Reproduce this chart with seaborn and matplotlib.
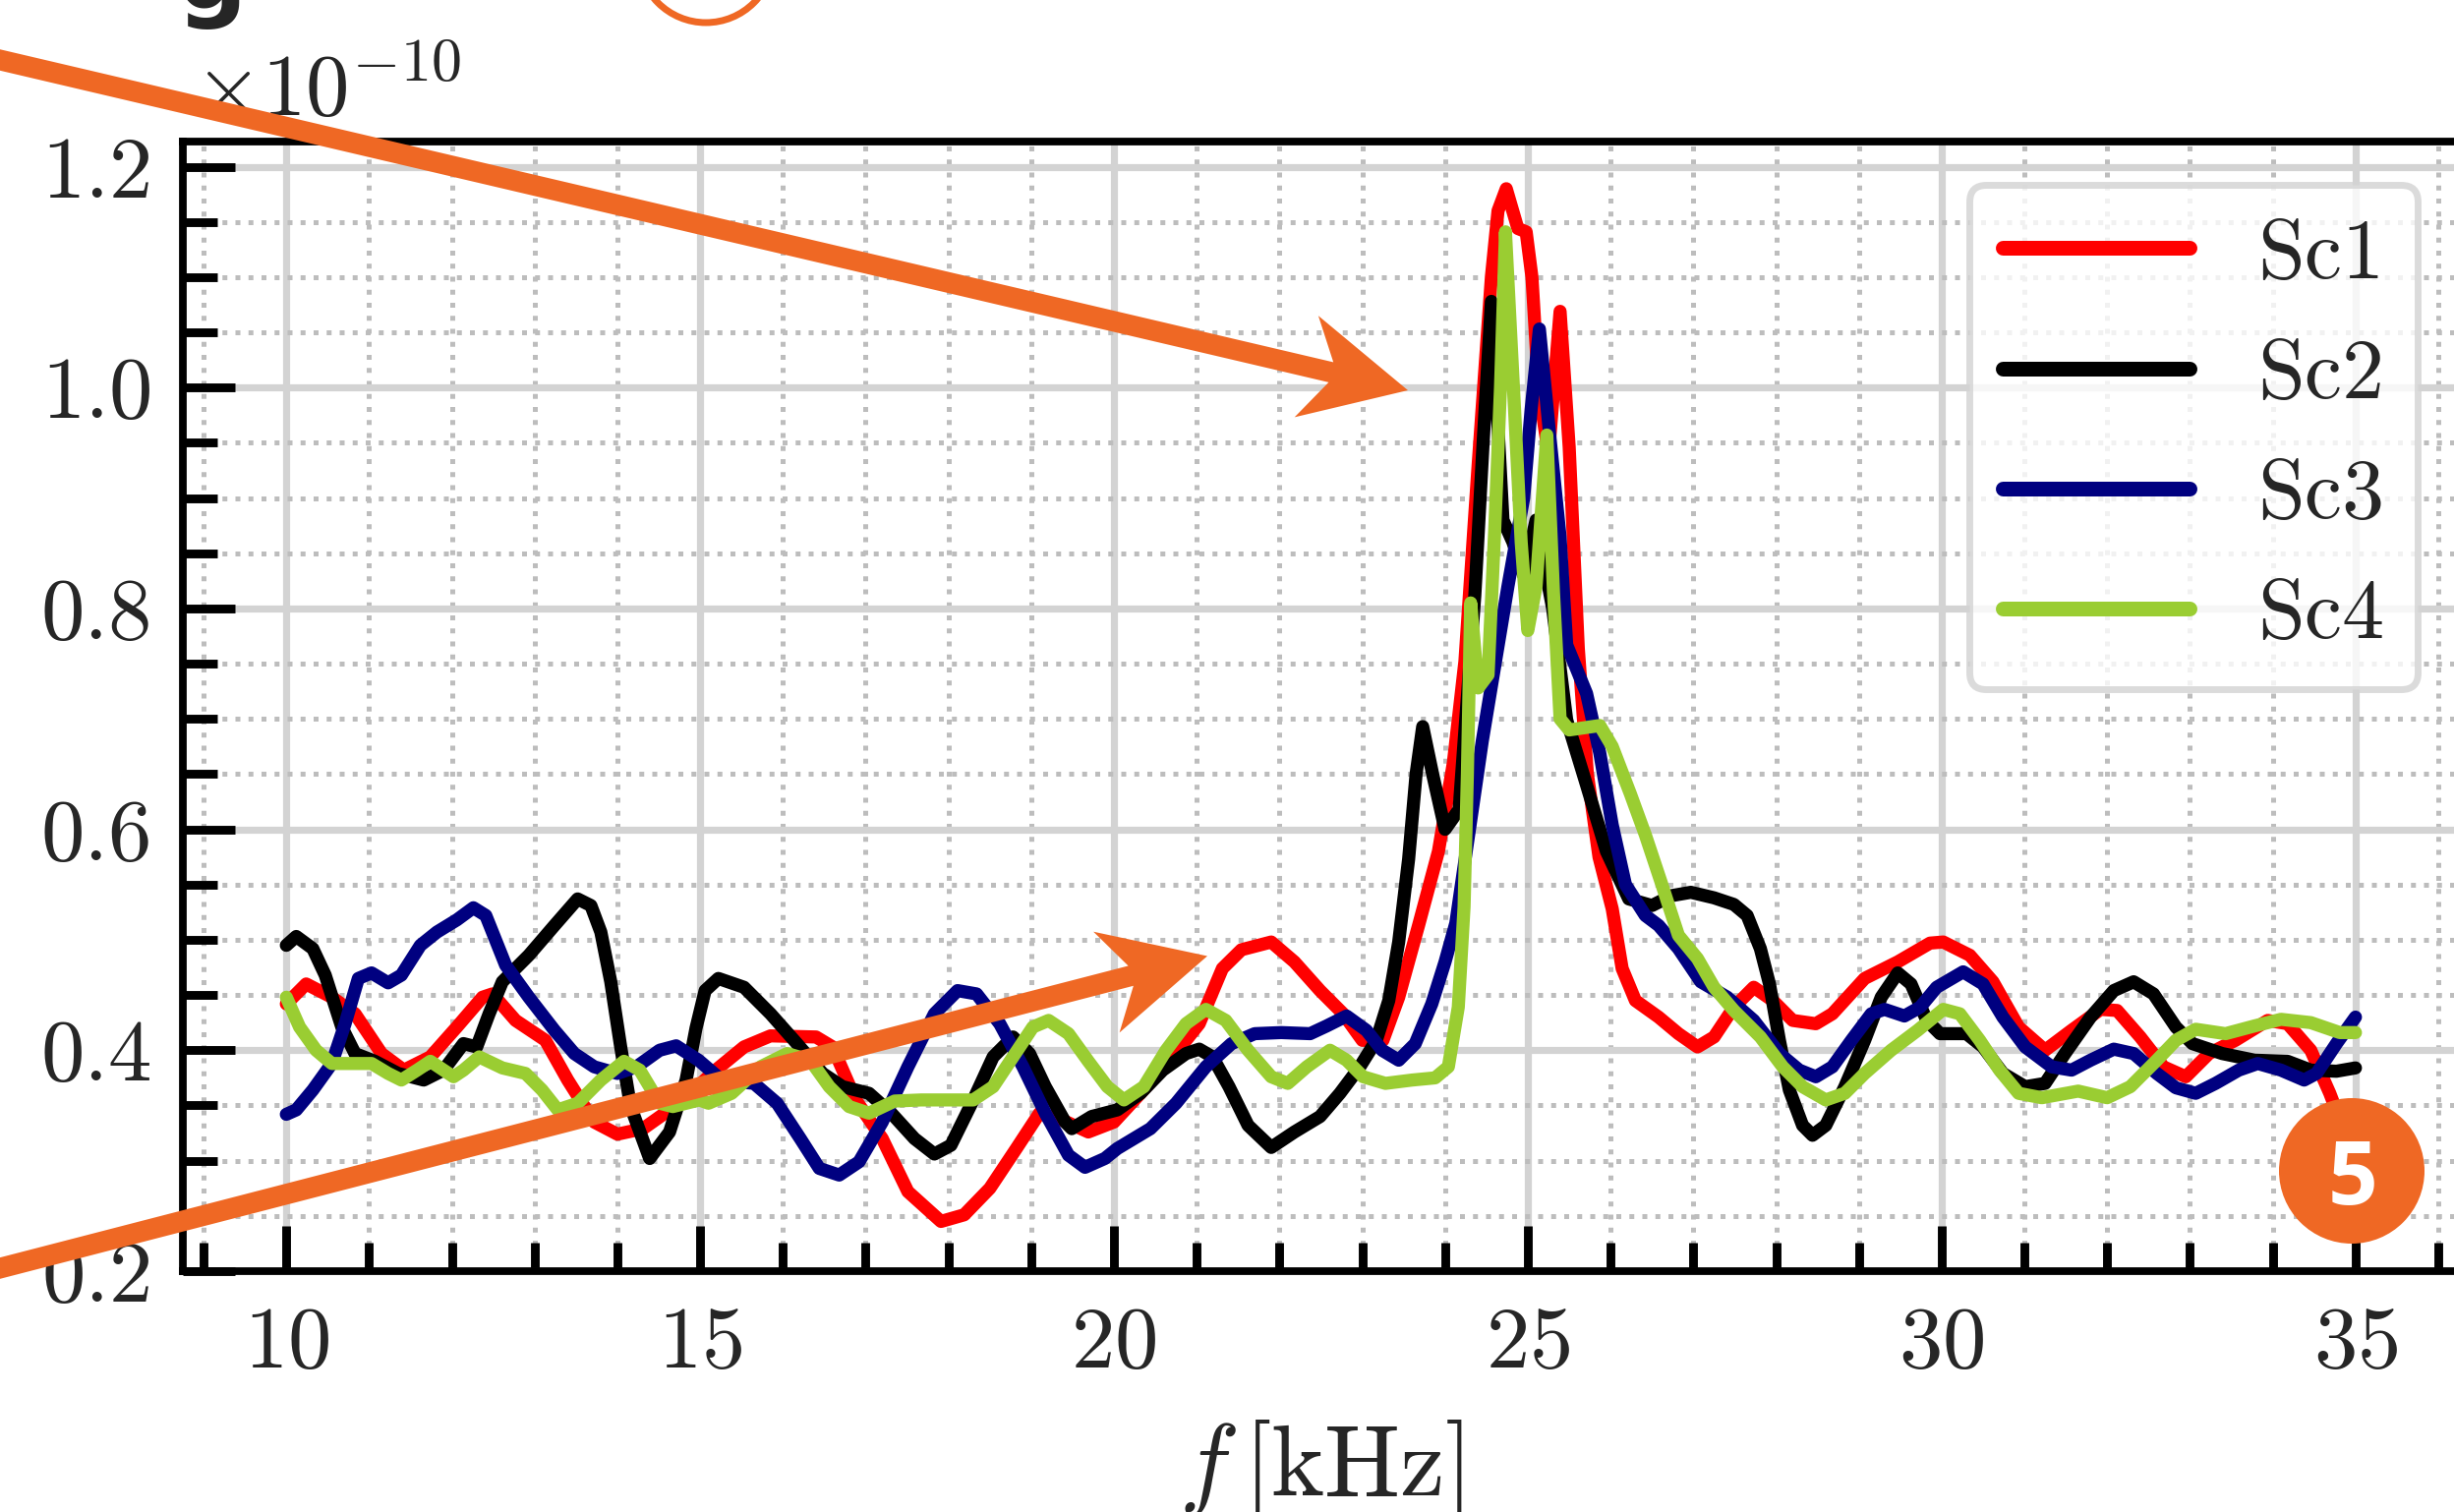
import numpy as np
import matplotlib
matplotlib.use("Agg")
import matplotlib.pyplot as plt
import seaborn as sns
from matplotlib.patches import Polygon, Circle
from matplotlib.ticker import MultipleLocator, FormatStrFormatter
from matplotlib.transforms import Affine2D

# ----------------------------------------------------------------------------
# spectra: (f [kHz], PSD [1e-10])
# ----------------------------------------------------------------------------
sc1 = [(10.00, 0.442), (10.24, 0.460), (10.55, 0.448), (10.83, 0.433), (11.15, 0.397),
       (11.42, 0.382), (11.74, 0.394), (12.06, 0.421), (12.37, 0.448), (12.49, 0.451),
       (12.77, 0.427), (13.13, 0.409), (13.40, 0.373), (13.72, 0.335), (14.00, 0.324),
       (14.31, 0.329), (14.63, 0.346), (14.90, 0.362), (15.14, 0.379), (15.53, 0.403),
       (15.85, 0.413), (16.40, 0.412), (16.60, 0.403), (16.88, 0.355), (17.20, 0.320),
       (17.51, 0.272), (17.91, 0.245), (18.19, 0.251), (18.50, 0.275), (18.82, 0.311),
       (19.10, 0.343), (19.37, 0.337), (19.69, 0.326), (20.00, 0.335), (20.32, 0.361),
       (20.71, 0.394), (21.03, 0.424), (21.31, 0.474), (21.54, 0.491), (21.90, 0.498),
       (22.18, 0.480), (22.49, 0.454), (22.77, 0.433), (23.00, 0.409), (23.25, 0.409),
       (23.44, 0.448), (23.68, 0.513), (23.92, 0.580), (24.10, 0.660), (24.24, 0.752),
       (24.40, 0.930), (24.56, 1.100), (24.64, 1.160), (24.74, 1.180), (24.88, 1.144),
       (24.98, 1.141), (25.05, 1.100), (25.13, 1.000), (25.25, 0.940), (25.39, 1.069),
       (25.50, 0.946), (25.61, 0.764), (25.72, 0.650), (25.86, 0.575), (26.02, 0.528),
       (26.14, 0.474), (26.30, 0.445), (26.58, 0.430), (26.82, 0.415), (27.05, 0.403),
       (27.25, 0.412), (27.49, 0.439), (27.73, 0.457), (27.96, 0.445), (28.20, 0.427),
       (28.48, 0.424), (28.68, 0.433), (29.07, 0.465), (29.47, 0.480), (29.86, 0.497),
       (30.02, 0.498), (30.34, 0.486), (30.62, 0.462), (30.93, 0.421), (31.25, 0.400),
       (31.57, 0.418), (31.92, 0.437), (32.12, 0.436), (32.40, 0.412), (32.68, 0.385),
       (32.95, 0.376), (33.23, 0.397), (33.55, 0.409), (33.94, 0.427), (34.18, 0.424),
       (34.46, 0.400), (34.69, 0.361), (35.00, 0.300)]

sc2 = [(10.00, 0.495), (10.12, 0.503), (10.32, 0.492), (10.47, 0.468), (10.67, 0.421),
       (10.83, 0.397), (11.07, 0.390), (11.35, 0.379), (11.66, 0.373), (11.90, 0.382),
       (12.14, 0.406), (12.30, 0.403), (12.45, 0.433), (12.61, 0.462), (12.93, 0.486),
       (13.24, 0.513), (13.52, 0.537), (13.68, 0.531), (13.80, 0.507), (13.92, 0.462),
       (14.04, 0.403), (14.16, 0.349), (14.39, 0.302), (14.63, 0.326), (14.83, 0.373),
       (14.95, 0.420), (15.06, 0.454), (15.22, 0.465), (15.53, 0.457), (15.85, 0.433),
       (16.17, 0.406), (16.48, 0.379), (16.72, 0.367), (17.04, 0.361), (17.31, 0.343),
       (17.59, 0.320), (17.83, 0.306), (18.03, 0.314), (18.30, 0.355), (18.54, 0.394),
       (18.78, 0.412), (18.98, 0.397), (19.17, 0.367), (19.41, 0.335), (19.49, 0.329),
       (19.73, 0.340), (20.04, 0.346), (20.32, 0.361), (20.59, 0.382), (20.87, 0.397),
       (21.03, 0.401), (21.19, 0.394), (21.39, 0.367), (21.62, 0.332), (21.90, 0.312),
       (22.18, 0.326), (22.49, 0.340), (22.73, 0.361), (22.97, 0.385), (23.17, 0.409),
       (23.32, 0.445), (23.44, 0.498), (23.56, 0.573), (23.65, 0.650), (23.73, 0.693),
       (23.85, 0.650), (24.00, 0.600), (24.17, 0.618), (24.36, 0.812), (24.46, 0.950),
       (24.56, 1.078), (24.70, 0.880), (24.82, 0.860), (24.95, 0.830), (25.10, 0.880),
       (25.30, 0.800), (25.47, 0.699), (25.71, 0.640), (25.95, 0.580), (26.22, 0.537),
       (26.50, 0.531), (26.74, 0.540), (26.97, 0.543), (27.25, 0.538), (27.49, 0.532),
       (27.65, 0.522), (27.81, 0.492), (27.92, 0.460), (28.04, 0.409), (28.16, 0.364),
       (28.32, 0.332), (28.44, 0.323), (28.60, 0.332), (28.83, 0.367), (29.07, 0.409),
       (29.27, 0.448), (29.47, 0.470), (29.63, 0.460), (29.82, 0.427), (29.98, 0.415),
       (30.30, 0.415), (30.50, 0.403), (30.74, 0.379), (31.01, 0.367), (31.25, 0.370),
       (31.49, 0.397), (31.80, 0.430), (32.08, 0.454), (32.32, 0.462), (32.56, 0.451),
       (32.83, 0.421), (33.03, 0.406), (33.39, 0.397), (33.78, 0.391), (34.18, 0.390),
       (34.46, 0.382), (34.77, 0.381), (35.00, 0.384)]

sc3 = [(10.00, 0.342), (10.12, 0.346), (10.32, 0.364), (10.55, 0.388), (10.71, 0.424),
       (10.87, 0.465), (11.03, 0.470), (11.23, 0.461), (11.39, 0.468), (11.62, 0.495),
       (11.82, 0.507), (12.06, 0.518), (12.26, 0.529), (12.41, 0.522), (12.65, 0.477),
       (12.93, 0.448), (13.24, 0.418), (13.48, 0.397), (13.72, 0.385), (14.00, 0.379),
       (14.23, 0.385), (14.51, 0.400), (14.71, 0.404), (14.98, 0.391), (15.26, 0.373),
       (15.65, 0.370), (15.93, 0.352), (16.21, 0.320), (16.44, 0.293), (16.68, 0.287),
       (16.92, 0.299), (17.20, 0.335), (17.51, 0.385), (17.83, 0.433), (18.11, 0.454),
       (18.34, 0.451), (18.62, 0.424), (18.90, 0.385), (19.17, 0.343), (19.45, 0.305),
       (19.65, 0.294), (19.89, 0.302), (20.04, 0.311), (20.44, 0.329), (20.75, 0.352),
       (21.11, 0.385), (21.42, 0.406), (21.70, 0.415), (22.02, 0.416), (22.37, 0.415),
       (22.57, 0.422), (22.81, 0.431), (23.05, 0.418), (23.24, 0.400), (23.44, 0.391),
       (23.64, 0.406), (23.84, 0.442), (24.00, 0.480), (24.13, 0.515), (24.45, 0.680),
       (24.76, 0.820), (24.95, 0.900), (25.04, 0.980), (25.14, 1.053), (25.27, 0.953),
       (25.39, 0.865), (25.47, 0.767), (25.71, 0.723), (25.87, 0.669), (26.02, 0.604),
       (26.18, 0.550), (26.42, 0.522), (26.58, 0.513), (26.82, 0.492), (27.09, 0.462),
       (27.41, 0.448), (27.73, 0.427), (28.04, 0.397), (28.28, 0.382), (28.48, 0.376),
       (28.68, 0.385), (28.91, 0.409), (29.15, 0.433), (29.31, 0.437), (29.55, 0.431),
       (29.74, 0.439), (29.94, 0.457), (30.26, 0.471), (30.50, 0.460), (30.74, 0.430),
       (31.01, 0.403), (31.33, 0.385), (31.57, 0.382), (31.80, 0.391), (32.08, 0.401),
       (32.32, 0.397), (32.60, 0.379), (32.83, 0.366), (33.07, 0.361), (33.31, 0.370),
       (33.59, 0.382), (33.82, 0.388), (34.10, 0.382), (34.38, 0.373), (34.53, 0.379),
       (34.77, 0.406), (35.00, 0.430)]

sc4 = [(10.00, 0.448), (10.16, 0.421), (10.36, 0.400), (10.55, 0.388), (10.83, 0.388),
       (11.03, 0.388), (11.23, 0.379), (11.39, 0.373), (11.58, 0.382), (11.74, 0.390),
       (12.02, 0.376), (12.14, 0.382), (12.33, 0.394), (12.61, 0.384), (12.89, 0.379),
       (13.09, 0.364), (13.28, 0.346), (13.52, 0.352), (13.80, 0.373), (14.08, 0.390),
       (14.27, 0.382), (14.51, 0.352), (14.67, 0.349), (14.99, 0.355), (15.10, 0.352),
       (15.38, 0.361), (15.73, 0.385), (16.05, 0.397), (16.33, 0.391), (16.56, 0.367),
       (16.80, 0.349), (17.04, 0.343), (17.35, 0.354), (17.67, 0.355), (17.99, 0.355),
       (18.30, 0.355), (18.54, 0.367), (18.78, 0.394), (19.02, 0.421), (19.21, 0.427),
       (19.45, 0.415), (19.69, 0.390), (19.92, 0.367), (20.12, 0.355), (20.36, 0.367),
       (20.63, 0.400), (20.87, 0.424), (21.11, 0.437), (21.35, 0.427), (21.62, 0.400),
       (21.90, 0.376), (22.10, 0.370), (22.33, 0.385), (22.61, 0.400), (22.81, 0.391),
       (23.01, 0.376), (23.28, 0.370), (23.60, 0.373), (23.88, 0.375), (24.04, 0.385),
       (24.16, 0.439), (24.23, 0.530), (24.27, 0.650), (24.31, 0.805), (24.40, 0.728),
       (24.52, 0.740), (24.60, 0.871), (24.67, 1.000), (24.73, 1.141), (24.84, 0.980),
       (24.92, 0.860), (25.00, 0.780), (25.10, 0.820), (25.23, 0.957), (25.31, 0.815),
       (25.39, 0.700), (25.50, 0.690), (25.87, 0.694), (26.02, 0.675), (26.24, 0.632),
       (26.42, 0.595), (26.62, 0.550), (26.82, 0.504), (27.05, 0.483), (27.25, 0.457),
       (27.49, 0.436), (27.81, 0.412), (28.08, 0.385), (28.32, 0.367), (28.60, 0.355),
       (28.83, 0.361), (29.07, 0.379), (29.39, 0.400), (29.71, 0.418), (30.02, 0.437),
       (30.22, 0.433), (30.46, 0.409), (30.70, 0.382), (30.93, 0.361), (31.21, 0.357),
       (31.65, 0.363), (32.00, 0.357), (32.28, 0.367), (32.60, 0.391), (32.83, 0.409),
       (33.07, 0.419), (33.43, 0.415), (33.78, 0.422), (34.10, 0.428), (34.46, 0.425),
       (34.81, 0.416), (35.00, 0.416)]

labels = ["Sc1", "Sc2", "Sc3", "Sc4"]
colors = ["#ff0000", "#000000", "#000080", "#9acd32"]

# ----------------------------------------------------------------------------
# figure
# ----------------------------------------------------------------------------
W, H, DPI = 2496, 1538, 200
ORANGE = "#ef6824"
LINE_W = 4.8

sns.set_style("white")
plt.rcParams.update({
    "font.family": ["cmr10", "DejaVu Sans"],
    "mathtext.fontset": "cm",
    "axes.unicode_minus": False,
    "axes.formatter.use_mathtext": True,
})

fig = plt.figure(figsize=(W / DPI, H / DPI), dpi=DPI)
ax = fig.add_axes([186 / W, 1 - 1293 / H, (2501 - 186) / W, (1293 - 144) / H])

for lab, col, data in zip(labels, colors, [sc1, sc2, sc3, sc4]):
    f, v = np.array(data).T
    sns.lineplot(x=f, y=v, ax=ax, color=col, label=lab, sort=False,
                 linewidth=LINE_W)
for ln in ax.get_lines():
    ln.set_linewidth(LINE_W)
    ln.set_solid_joinstyle("round")

ax.set_xlim(8.75, 36.25)
ax.set_ylim(0.2, 1.2227)
ax.xaxis.set_major_locator(MultipleLocator(5))
ax.xaxis.set_minor_locator(MultipleLocator(1))
ax.yaxis.set_major_locator(MultipleLocator(0.2))
ax.yaxis.set_minor_locator(MultipleLocator(0.05))
ax.yaxis.set_major_formatter(FormatStrFormatter("%.1f"))

ax.set_axisbelow(True)
ax.grid(which="major", color="#d3d3d3", linewidth=2.6, linestyle="-")
ax.grid(which="minor", color="#bdbdbd", linewidth=1.8, linestyle=":")

for sp in ax.spines.values():
    sp.set_color("black")
    sp.set_linewidth(2.8)

ax.tick_params(which="both", direction="in", bottom=True, left=True,
               top=False, right=False, width=3.2, color="black")
ax.tick_params(which="major", labelsize=32)
ax.tick_params(axis="x", which="major", length=16.5, pad=13)
ax.tick_params(axis="x", which="minor", length=10.5)
ax.tick_params(axis="y", which="major", length=19, pad=11)
ax.tick_params(axis="y", which="minor", length=12.6)

ax.set_xlabel(r"$f\,[\mathrm{kHz}]$", fontsize=37, labelpad=12)
ax.set_ylabel("")

leg = ax.legend(loc="upper right", bbox_to_anchor=(0.982, 0.962), borderaxespad=0,
                fontsize=31, handlelength=2.2, handletextpad=0.8, labelspacing=0.52,
                borderpad=0.4, frameon=True, fancybox=True, framealpha=0.8,
                edgecolor="#d3d3d3")
leg.get_frame().set_linewidth(2.5)
for ln in leg.get_lines():
    ln.set_linewidth(5.4)

# pixel transform (x right, y down) for the overlays
pix = Affine2D().scale(1, -1).translate(0, H)

fig.text(197, 118, r"$\times10^{-10}$", fontsize=32, ha="left", va="baseline",
         transform=pix)


def arrow(start, tip, w=21, head_len=106, head_hw=53, notch=74):
    s = np.array(start, float)
    t = np.array(tip, float)
    d = (t - s) / np.linalg.norm(t - s)
    n = np.array([-d[1], d[0]])
    k = 1 - w / (2 * head_hw)
    back = -head_len + k * (head_len - notch)
    pts = [s + n * w / 2, t + d * back + n * w / 2, t - d * head_len + n * head_hw, t,
           t - d * head_len - n * head_hw, t + d * back - n * w / 2, s - n * w / 2]
    return Polygon(pts, closed=True, facecolor=ORANGE, edgecolor="none",
                   transform=pix, zorder=20)


fig.add_artist(arrow((-40, 61 - 40 * 336 / 1432), (1432, 397)))
fig.add_artist(arrow((-40, 1290 + 40 * 317.3 / 1228), (1228, 972.5)))

fig.add_artist(Circle((718, -46), 69, fill=False, edgecolor=ORANGE, linewidth=2.5,
                      transform=pix, zorder=20))
fig.add_artist(Circle((2392, 1191), 74, facecolor=ORANGE, edgecolor="none",
                      transform=pix, zorder=20))
fig.text(2393, 1191, "5", color="white", fontsize=32, fontweight="bold",
         family=["Open Sans", "DejaVu Sans"], ha="center", va="center_baseline",
         transform=pix, zorder=21)
fig.text(179, 8, "g", color="#262626", fontsize=36, fontweight="bold",
         family=["DejaVu Sans"], ha="left", va="baseline", transform=pix, zorder=21)

fig.savefig("out.png", dpi=DPI)
